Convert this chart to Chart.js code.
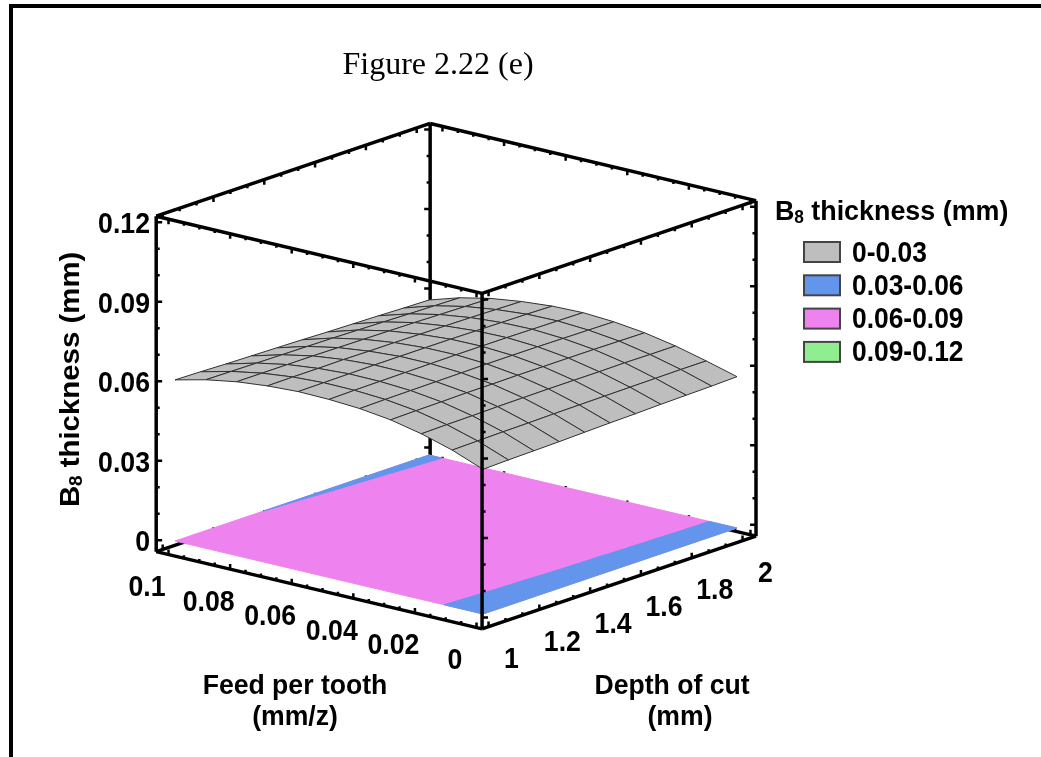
<!DOCTYPE html>
<html>
<head>
<meta charset="utf-8">
<title>Figure 2.22 (e)</title>
<script src="https://cdn.jsdelivr.net/npm/chart.js@4"></script>
<style>
    body { margin: 0; background: #fff; }
    #frame { position: absolute; left: 9px; top: 4px; right: 0; bottom: 0; border-left: 4px solid #000; border-top: 4px solid #000; }
    #surface-chart { position: absolute; left: 0; top: 0; }
</style>
</head>
<body>
<div id="frame"></div>
<canvas id="surface-chart" width="1041" height="757"></canvas>
<script>
// Values
const feedValues = [0, 0.01, 0.02, 0.03, 0.04, 0.05, 0.06, 0.07, 0.08, 0.09, 0.1];
const depthValues = [1, 1.1, 1.2, 1.3, 1.4, 1.5, 1.6, 1.7, 1.8, 1.9, 2];

// one row per depth, one column per feed
const thickness = [
    [0.0546, 0.0591, 0.0625, 0.0650, 0.0665, 0.0672, 0.0674, 0.0668, 0.0656, 0.0636, 0.0608],
    [0.0549, 0.0593, 0.0627, 0.0652, 0.0667, 0.0674, 0.0675, 0.0669, 0.0656, 0.0635, 0.0606],
    [0.0551, 0.0595, 0.0628, 0.0653, 0.0668, 0.0675, 0.0676, 0.0669, 0.0656, 0.0634, 0.0603],
    [0.0553, 0.0596, 0.0630, 0.0655, 0.0669, 0.0676, 0.0677, 0.0670, 0.0656, 0.0633, 0.0601],
    [0.0556, 0.0598, 0.0631, 0.0655, 0.0670, 0.0677, 0.0677, 0.0669, 0.0655, 0.0632, 0.0599],
    [0.0559, 0.0599, 0.0632, 0.0656, 0.0671, 0.0678, 0.0677, 0.0669, 0.0654, 0.0631, 0.0597],
    [0.0561, 0.0600, 0.0632, 0.0656, 0.0671, 0.0678, 0.0677, 0.0668, 0.0653, 0.0629, 0.0594],
    [0.0564, 0.0601, 0.0632, 0.0656, 0.0671, 0.0678, 0.0676, 0.0667, 0.0652, 0.0627, 0.0592],
    [0.0566, 0.0602, 0.0633, 0.0656, 0.0670, 0.0677, 0.0675, 0.0666, 0.0650, 0.0625, 0.0590],
    [0.0568, 0.0603, 0.0632, 0.0655, 0.0669, 0.0676, 0.0674, 0.0664, 0.0648, 0.0623, 0.0587],
    [0.0571, 0.0603, 0.0632, 0.0654, 0.0668, 0.0675, 0.0672, 0.0662, 0.0646, 0.0621, 0.0585]
];

const feedTicks = [0, 0.02, 0.04, 0.06, 0.08, 0.1];
const feedTickLabels = ['0', '0.02', '0.04', '0.06', '0.08', '0.1'];
const depthTicks = [1, 1.2, 1.4, 1.6, 1.8, 2];
const depthTickLabels = ['1', '1.2', '1.4', '1.6', '1.8', '2'];
const thicknessTicks = [0, 0.03, 0.06, 0.09, 0.12];
const thicknessTickLabels = ['0', '0.03', '0.06', '0.09', '0.12'];

const legendLabels = ['0-0.03', '0.03-0.06', '0.06-0.09', '0.09-0.12'];
const legendColors = ['#bebebe', '#6495ed', '#ee82ee', '#90ee90'];
const floorSplit = 0.06;

// box limits, a little wider than the axis ranges
const feedRange = [-0.0018, 0.104];
const depthRange = [0.9745, 2.053];
const thicknessRange = [-0.0043, 0.1223];

// parallel projection of (feed, depth, thickness) to the page
function project(f, d, z) {
    return {
        x: 483 - 3080 * f + 254 * (d - 1),
        y: 614 - 730 * f - 86 * (d - 1) - 2650 * z
    };
}

function lineSet(points, width, color) {
    return {
        data: points, showLine: true, fill: false, pointRadius: 0, spanGaps: false,
        borderWidth: width, borderColor: color, tension: 0
    };
}

function polySet(points, color, edgeColor, edgeWidth) {
    return {
        data: points.concat([points[0]]), showLine: true, fill: 'shape', pointRadius: 0,
        backgroundColor: color, borderColor: edgeColor, borderWidth: edgeWidth, tension: 0
    };
}

function edge(a, b) {
    return [project(a[0], a[1], a[2]), project(b[0], b[1], b[2])];
}

// small marks along one box edge
function tickMarks(ticks, minorStep, at, dx, dy) {
    const pts = [];
    const lo = ticks[0], hi = ticks[ticks.length - 1];
    const count = Math.round((hi - lo) / minorStep);
    for (let i = 0; i <= count; i++) {
        const v = lo + i * minorStep;
        const isMajor = ticks.some(t => Math.abs(t - v) < minorStep / 10);
        const p = at(v);
        const len = isMajor ? 1.7 : 1;
        pts.push(p, { x: p.x + dx * len, y: p.y + dy * len }, { x: null, y: null });
    }
    return pts;
}

const [fLo, fHi] = feedRange;
const [dLo, dHi] = depthRange;
const [zLo, zHi] = thicknessRange;

const drawList = [];
const inkWidth = 3.5;
const tickWidth = 2.5;

// back of the box
drawList.push(lineSet(edge([fHi, dHi, zLo], [fHi, dHi, zHi]), inkWidth, '#000'));
drawList.push(lineSet(tickMarks(thicknessTicks, 0.01, z => project(fHi, dHi, z), -3.5, 0), tickWidth, '#000'));
drawList.push(lineSet(edge([fHi, dLo, zLo], [fHi, dHi, zLo]), inkWidth, '#000'));
drawList.push(lineSet(edge([fLo, dHi, zLo], [fHi, dHi, zLo]), inkWidth, '#000'));
drawList.push(lineSet(tickMarks(depthTicks, 0.2 / 3, d => project(fHi, d, zLo), 0, -3), tickWidth, '#000'));
drawList.push(lineSet(tickMarks(feedTicks, 0.005, f => project(f, dHi, zLo), 0, -3), tickWidth, '#000'));

// floor: contour of the surface, split at floorSplit
const floorCorners = [
    project(feedValues[0], depthValues[0], 0),
    project(feedValues[10], depthValues[0], 0),
    project(feedValues[10], depthValues[10], 0),
    project(feedValues[0], depthValues[10], 0)
];
drawList.push(polySet(floorCorners, legendColors[2], legendColors[2], 1));

for (let r = 0; r < 10; r++) {
    for (let c = 0; c < 10; c++) {
        const cell = [[r, c], [r, c + 1], [r + 1, c + 1], [r + 1, c]];
        const piece = [];
        cell.forEach((a, i) => {
            const b = cell[(i + 1) % 4];
            const za = thickness[a[0]][a[1]], zb = thickness[b[0]][b[1]];
            const fa = feedValues[a[1]], fb = feedValues[b[1]];
            const da = depthValues[a[0]], db = depthValues[b[0]];
            if (za < floorSplit) piece.push(project(fa, da, 0));
            if ((za < floorSplit) !== (zb < floorSplit)) {
                const t = (floorSplit - za) / (zb - za);
                piece.push(project(fa + (fb - fa) * t, da + (db - da) * t, 0));
            }
        });
        if (piece.length > 2) drawList.push(polySet(piece, legendColors[1], legendColors[1], 1));
    }
}

// surface cells, far ones first
for (let r = 10; r > 0; r--) {
    for (let c = 10; c > 0; c--) {
        const cell = [[r, c], [r, c - 1], [r - 1, c - 1], [r - 1, c]].map(
            p => project(feedValues[p[1]], depthValues[p[0]], thickness[p[0]][p[1]])
        );
        drawList.push(polySet(cell, legendColors[0], '#303030', 1));
    }
}

// rest of the box in front
const frontEdges = [
    [[fHi, dLo, zLo], [fHi, dLo, zHi]],
    [[fLo, dLo, zLo], [fLo, dLo, zHi]],
    [[fLo, dHi, zLo], [fLo, dHi, zHi]],
    [[fLo, dLo, zLo], [fHi, dLo, zLo]],
    [[fLo, dLo, zLo], [fLo, dHi, zLo]],
    [[fHi, dLo, zHi], [fHi, dHi, zHi]],
    [[fLo, dHi, zHi], [fHi, dHi, zHi]],
    [[fLo, dLo, zHi], [fHi, dLo, zHi]],
    [[fLo, dLo, zHi], [fLo, dHi, zHi]]
];
frontEdges.forEach(e => drawList.push(lineSet(edge(e[0], e[1]), inkWidth, '#000')));

[
    tickMarks(thicknessTicks, 0.01, z => project(fHi, dLo, z), 3.5, 0),
    tickMarks(thicknessTicks, 0.01, z => project(fLo, dLo, z), 3.5, 0),
    tickMarks(thicknessTicks, 0.01, z => project(fLo, dHi, z), -3.5, 0),
    tickMarks(feedTicks, 0.005, f => project(f, dLo, zLo), 0, -3),
    tickMarks(depthTicks, 0.2 / 3, d => project(fLo, d, zLo), 0, -3),
    tickMarks(feedTicks, 0.005, f => project(f, dLo, zHi), 0, 3),
    tickMarks(feedTicks, 0.005, f => project(f, dHi, zHi), 0, 3),
    tickMarks(depthTicks, 0.2 / 3, d => project(fLo, d, zHi), 0, 3),
    tickMarks(depthTicks, 0.2 / 3, d => project(fHi, d, zHi), 0, 3)
].forEach(marks => drawList.push(lineSet(marks, tickWidth, '#000')));

// Chart.js paints the first dataset last
drawList.reverse();

const boldFont = 'bold 28px "Liberation Sans"';
const tickFont = 'bold 29px "Liberation Sans"';

function putText(ctx, text, x, y, align, squeeze) {
    ctx.save();
    ctx.translate(x, y);
    ctx.scale(squeeze || 0.92, 1);
    ctx.textAlign = align;
    ctx.textBaseline = 'middle';
    ctx.fillText(text, 0, 0);
    ctx.restore();
}

// "B8 thickness (mm)" with the small 8, starting at the current origin
function putB8Title(ctx) {
    ctx.textAlign = 'left';
    ctx.textBaseline = 'middle';
    ctx.font = boldFont;
    ctx.fillText('B', 0, 0);
    ctx.font = 'bold 18px "Liberation Sans"';
    ctx.fillText('8', 20, 6);
    ctx.font = boldFont;
    ctx.fillText(' thickness (mm)', 30, 0);
}

const textPlugin = {
    id: 'chartText',
    afterDraw(chart) {
        const ctx = chart.ctx;
        ctx.save();
        ctx.fillStyle = '#000';

        ctx.font = '32px "Liberation Serif"';
        putText(ctx, 'Figure 2.22 (e)', 438, 66, 'center', 1);

        ctx.font = tickFont;
        thicknessTicks.forEach((t, i) => {
            const p = project(fHi, dLo, t);
            putText(ctx, thicknessTickLabels[i], 150, p.y + 3, 'right');
        });
        feedTicks.forEach((t, i) => {
            const p = project(t, dLo, zLo);
            putText(ctx, feedTickLabels[i], p.x - 21.5, p.y + 33.5, 'center');
        });
        depthTicks.forEach((t, i) => {
            const p = project(fLo, t, zLo);
            putText(ctx, depthTickLabels[i], p.x + 23, p.y + 33, 'center');
        });

        ctx.font = boldFont;
        putText(ctx, 'Feed per tooth', 295, 686, 'center', 0.95);
        putText(ctx, '(mm/z)', 295, 717, 'center', 0.95);
        putText(ctx, 'Depth of cut', 672, 686, 'center', 0.95);
        putText(ctx, '(mm)', 680, 717, 'center', 0.95);

        ctx.save();
        ctx.translate(71, 507);
        ctx.rotate(-Math.PI / 2);
        ctx.scale(1.05, 1);
        putB8Title(ctx);
        ctx.restore();

        ctx.save();
        ctx.translate(775, 212);
        ctx.scale(0.96, 1);
        putB8Title(ctx);
        ctx.restore();

        ctx.font = tickFont;
        legendLabels.forEach((label, i) => {
            const top = 242 + i * 33.3;
            ctx.fillStyle = legendColors[i];
            ctx.strokeStyle = '#444';
            ctx.lineWidth = 2;
            ctx.fillRect(804, top, 36, 20);
            ctx.strokeRect(804, top, 36, 20);
            ctx.fillStyle = '#000';
            putText(ctx, label, 852, top + 11.5, 'left', 0.91);
        });
        ctx.restore();
    }
};

new Chart(document.getElementById('surface-chart').getContext('2d'), {
    type: 'scatter',
    data: { datasets: drawList },
    options: {
        responsive: false,
        animation: false,
        layout: { padding: 0 },
        plugins: { legend: { display: false }, tooltip: { enabled: false } },
        scales: {
            x: { type: 'linear', display: false, min: 0, max: 1041 },
            y: { type: 'linear', display: false, min: 0, max: 757, reverse: true }
        }
    },
    plugins: [textPlugin]
});
</script>
</body>
</html>
